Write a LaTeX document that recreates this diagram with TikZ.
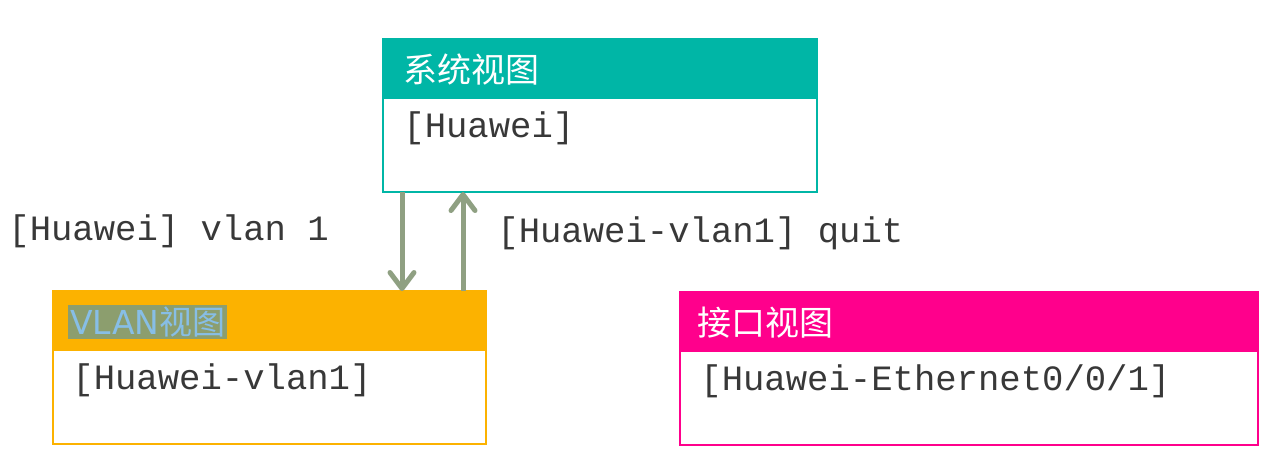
\documentclass[tikz,border=0pt]{standalone}
\usepackage{fontspec}
\setmonofont{Liberation Mono}
\newfontfamily\cjk{Noto Sans CJK SC}
\usetikzlibrary{arrows.meta}
\definecolor{teal1}{RGB}{0,182,166}
\definecolor{orange1}{RGB}{252,178,0}
\definecolor{pink1}{RGB}{255,0,140}
\definecolor{arrowc}{RGB}{143,160,130}
\definecolor{hlbox}{RGB}{140,158,110}
\definecolor{hltext}{RGB}{135,190,230}
\tikzset{
  mono/.style={font=\fontsize{17.8}{20}\selectfont\ttfamily, anchor=west, inner sep=0pt, text=black!78},
  head/.style={font=\fontsize{17}{20}\selectfont\cjk, anchor=west, inner sep=0pt, text=white},
  conn/.style={draw=arrowc, line width=2.5pt, -{Straight Barb[length=8pt,width=12pt,line width=2.5pt, round]}},
}
\begin{document}
\begin{tikzpicture}[x=0.5pt,y=-0.5pt]
\useasboundingbox (0,0) rectangle (1280,473);
% system view
\fill[teal1] (383,39) rectangle (817,99);
\draw[teal1, line width=1pt] (383,39) rectangle (817,192);
\node[head] (sysh) at (403,70) {系统视图};
\node[mono] (syst) at (403,128) {[Huawei]};
\coordinate (sysb1) at (402,192);
\coordinate (sysb2) at (463,192);
% vlan view
\fill[orange1] (53,291) rectangle (486,351);
\draw[orange1, line width=1pt] (53,291) rectangle (486,444);
\node[head, fill=hlbox, text=hltext, inner sep=1pt, font=\fontsize{16.5}{20}\selectfont\cjk] (vlanh) at (68,322) {\fontspec{DejaVu Sans}VLAN\cjk 视图 };
\node[mono] (vlant) at (72,380) {[Huawei-vlan1]};
\coordinate (vlant1) at (402,291);
\coordinate (vlant2) at (463,291);
% interface view
\fill[pink1] (680,292) rectangle (1258,352);
\draw[pink1, line width=1pt] (680,292) rectangle (1258,445);
\node[head] (ifh) at (697,323) {接口视图};
\node[mono] (ift) at (700,381) {[Huawei-Ethernet0/0/1]};
% arrows
\draw[conn] (sysb1) -- (vlant1);
\draw[conn] (vlant2) -- (sysb2);
\node[mono] (l1) at (8,231) {[Huawei] vlan 1};
\node[mono] (l2) at (497,233) {[Huawei-vlan1] quit};
\end{tikzpicture}
\end{document}
